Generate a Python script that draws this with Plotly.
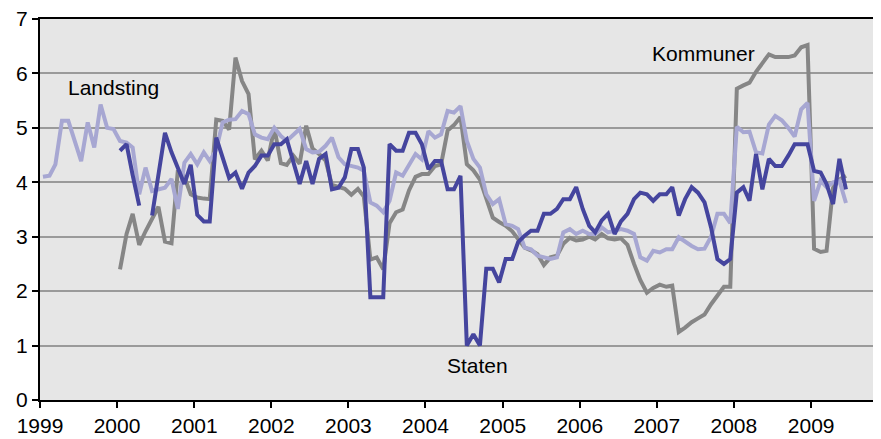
import pandas as pd
import plotly.graph_objects as go

# Monthly observations, Jan 1999 .. Jun 2009 (126 months)
months = (pd.date_range("1999-01-01", periods=126, freq="MS") + pd.Timedelta(days=14)).strftime("%Y-%m-%d").tolist()

kommuner = [None] * 12 + [
    2.40, 3.05, 3.42, 2.85, 3.10, 3.33, 3.55, 2.91, 2.88, 4.22, 4.10, 3.78,
    3.72, 3.70, 3.69, 5.15, 5.13, 4.97, 6.29, 5.86, 5.62, 4.42, 4.58, 4.40,
    5.00, 4.35, 4.32, 4.49, 4.34, 5.04, 4.62, 4.52, 4.40, 3.95, 3.92, 3.88,
    3.77, 3.88, 3.74, 2.58, 2.62, 2.40, 3.25, 3.45, 3.50, 3.85, 4.10, 4.15,
    4.15, 4.30, 4.33, 4.95, 5.05, 5.20, 4.33, 4.22, 4.05, 3.70, 3.35, 3.27,
    3.20, 3.10, 2.95, 2.80, 2.75, 2.68, 2.48, 2.62, 2.65, 2.87, 2.98, 2.93,
    2.95, 3.00, 2.95, 3.05, 2.97, 2.95, 2.97, 2.85, 2.50, 2.20, 1.97, 2.06,
    2.12, 2.08, 2.10, 1.25, 1.33, 1.43, 1.50, 1.57, 1.76, 1.92, 2.08, 2.08,
    5.72, 5.78, 5.83, 6.03, 6.20, 6.35, 6.30, 6.30, 6.30, 6.33, 6.48, 6.52,
    2.78, 2.72, 2.74, 3.90, 4.05, 4.12,
]

landsting = [
    4.10, 4.12, 4.33, 5.13, 5.13, 4.76, 4.39, 5.10, 4.64, 5.43, 5.00, 4.98,
    4.76, 4.73, 4.64, 3.78, 4.27, 3.84, 3.87, 3.90, 4.06, 3.51, 4.36, 4.52,
    4.33, 4.55, 4.39, 4.60, 5.10, 5.15, 5.16, 5.31, 5.25, 4.88, 4.82, 4.79,
    5.00, 4.85, 4.76, 4.88, 4.98, 4.61, 4.55, 4.56, 4.67, 4.82, 4.46, 4.33,
    4.30, 4.27, 4.21, 3.63, 3.57, 3.45, 3.66, 4.18, 4.12, 4.33, 4.52, 4.42,
    4.94, 4.82, 4.88, 5.31, 5.28, 5.40, 4.76, 4.43, 4.27, 3.78, 3.60, 3.69,
    3.23, 3.20, 3.14, 2.80, 2.77, 2.65, 2.62, 2.59, 2.62, 3.08, 3.14, 3.05,
    3.11, 3.05, 3.05, 3.17, 3.08, 3.11, 3.14, 3.11, 3.05, 2.62, 2.56, 2.74,
    2.71, 2.77, 2.77, 2.99, 2.90, 2.83, 2.77, 2.78, 3.00, 3.42, 3.42, 3.25,
    5.02, 4.92, 4.93, 4.55, 4.53, 5.06, 5.22, 5.14, 5.00, 4.84, 5.34, 5.46,
    3.66, 4.03, 3.91, 4.00, 4.03, 3.62,
]

staten = [None] * 12 + [
    4.58, 4.70, 4.13, 3.57, None, 3.39, 4.15, 4.91, 4.55, 4.25, 3.97, 4.32,
    3.40, 3.28, 3.28, 4.82, 4.45, 4.08, 4.18, 3.88, 4.18, 4.30, 4.49, 4.49,
    4.70, 4.70, 4.79, 4.36, 3.97, 4.39, 3.97, 4.43, 4.52, 3.87, 3.90, 4.09,
    4.61, 4.61, 4.27, 1.89, 1.89, 1.89, 4.70, 4.58, 4.58, 4.91, 4.91, 4.70,
    4.24, 4.39, 4.39, 3.87, 3.87, 4.12, 1.00, 1.21, 1.00, 2.41, 2.41, 2.16,
    2.59, 2.59, 2.90, 3.02, 3.11, 3.11, 3.42, 3.42, 3.51, 3.69, 3.69, 3.91,
    3.51, 3.20, 3.08, 3.30, 3.42, 3.05, 3.28, 3.42, 3.69, 3.81, 3.78, 3.66,
    3.78, 3.78, 3.91, 3.39, 3.69, 3.91, 3.81, 3.63, 3.17, 2.59, 2.50, 2.59,
    3.81, 3.91, 3.66, 4.52, 3.87, 4.43, 4.30, 4.30, 4.49, 4.70, 4.70, 4.70,
    4.21, 4.18, 3.97, 3.60, 4.43, 3.87,
]

series_names = ["Kommuner", "Landsting", "Staten"]
series_values = [kommuner, landsting, staten]
series_colors = ["#868686", "#a7a7d2", "#45459e"]

FONT = "Liberation Sans, Arial, sans-serif"

fig = go.Figure()
for name, vals, col in zip(series_names, series_values, series_colors):
    fig.add_trace(go.Scatter(
        x=months, y=vals, name=name, mode="lines",
        line=dict(color=col, width=4), connectgaps=False,
    ))

labels = [("Landsting", "1999-12-13", 5.75),
          ("Kommuner", "2007-08-12", 6.36),
          ("Staten", "2004-09-05", 0.63)]
for text, xv, yv in labels:
    fig.add_annotation(x=xv, y=yv, text=text, showarrow=False,
                       font=dict(family=FONT, size=21, color="#000000"),
                       xanchor="center", yanchor="middle")

# page body has an 8px margin, so the figure is sized/shifted to compensate
fig.update_layout(
    width=873, height=431,
    margin=dict(l=32, r=0, t=11, b=39, autoexpand=False),
    paper_bgcolor="#ffffff",
    plot_bgcolor="#e6e6e6",
    showlegend=False,
    font=dict(family=FONT, size=21, color="#000000"),
    xaxis=dict(
        type="date", automargin=False, ticklabeloverflow="allow",
        range=["1999-01-01", "2009-11-28"],
        tick0="1999-01-01", dtick="M12", tickformat="%Y",
        ticks="outside", ticklen=6, tickwidth=1.5, tickcolor="#000000",
        showline=True, linecolor="#000000", linewidth=2, mirror=True,
        showgrid=False, zeroline=False,
        tickfont=dict(family=FONT, size=21, color="#000000"),
    ),
    yaxis=dict(
        range=[0, 7], dtick=1, tick0=0, automargin=False, ticklabeloverflow="allow",
        ticks="outside", ticklen=6, tickwidth=1.5, tickcolor="#000000",
        showline=True, linecolor="#000000", linewidth=2,
        showgrid=True, gridcolor="#9a9a9a", gridwidth=1.5,
        zeroline=False,
        tickfont=dict(family=FONT, size=21, color="#000000"),
    ),
)

fig.write_html("out.html")
